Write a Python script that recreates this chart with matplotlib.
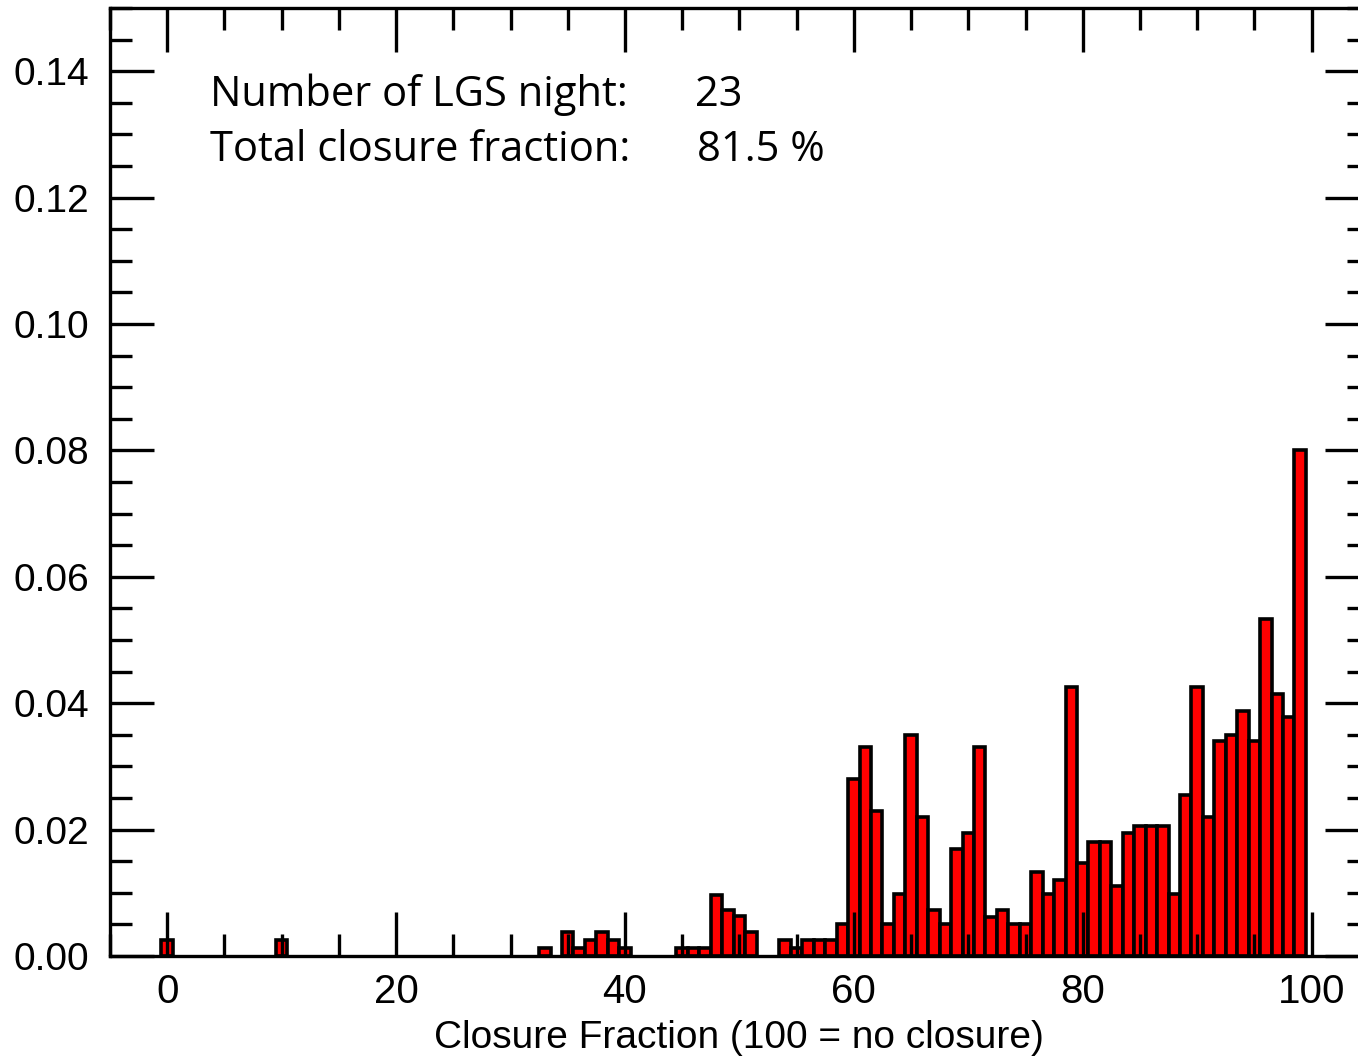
import matplotlib.pyplot as plt
from matplotlib.ticker import MultipleLocator

# closure fraction bins (1 % wide) and normalised counts
closure = [0, 10, 33, 35, 36, 37, 38, 39, 40, 45, 46, 47, 48, 49, 50, 51,
           54, 55, 56, 57, 58, 59, 60, 61, 62, 63, 64, 65, 66, 67, 68, 69,
           70, 71, 72, 73, 74, 75, 76, 77, 78, 79, 80, 81, 82, 83, 84, 85,
           86, 87, 88, 89, 90, 91, 92, 93, 94, 95, 96, 97, 98, 99]
frac = [0.0025, 0.0025, 0.0013, 0.0038, 0.0013, 0.0025, 0.0038, 0.0025, 0.0013,
        0.0013, 0.0013, 0.0013, 0.0097, 0.0073, 0.0063, 0.0038,
        0.0025, 0.0013, 0.0025, 0.0025, 0.0025, 0.0050, 0.0280, 0.0330, 0.0230,
        0.0050, 0.0098, 0.0350, 0.0220, 0.0073, 0.0050, 0.0170,
        0.0195, 0.0330, 0.0062, 0.0073, 0.0050, 0.0050, 0.0133, 0.0098, 0.0120,
        0.0426, 0.0147, 0.0180, 0.0180, 0.0110, 0.0195, 0.0206,
        0.0206, 0.0206, 0.0098, 0.0255, 0.0426, 0.0220, 0.0340, 0.0350, 0.0388,
        0.0340, 0.0534, 0.0415, 0.0378, 0.0800]

info_labels = ['Number of LGS night:', 'Total closure fraction:']
info_values = ['23', '81.5 %']

fig = plt.figure(figsize=(13.58, 10.58), dpi=100)
ax = fig.add_axes([0.081, 0.0964, 0.927, 0.896])

ax.bar(closure, frac, width=1.0, color='red', edgecolor='black', linewidth=2.6)

ax.set_xlim(-5, 105)
ax.set_ylim(0, 0.15)

ax.xaxis.set_major_locator(MultipleLocator(20))
ax.xaxis.set_minor_locator(MultipleLocator(5))
ax.yaxis.set_major_locator(MultipleLocator(0.02))
ax.yaxis.set_minor_locator(MultipleLocator(0.005))
ax.yaxis.set_major_formatter(plt.FormatStrFormatter('%.2f'))

ax.tick_params(which='both', direction='in', top=True, right=True, width=2.4)
ax.tick_params(which='major', length=32)
ax.tick_params(which='minor', length=16)
ax.tick_params(axis='x', pad=12, labelsize=29)
ax.tick_params(axis='y', pad=15, labelsize=28)
for lab in ax.get_xticklabels() + ax.get_yticklabels():
    lab.set_fontfamily('Liberation Sans')
for s in ax.spines.values():
    s.set_linewidth(2.4)

ax.set_xlabel('Closure Fraction (100 = no closure)', fontsize=28,
              family='Liberation Sans', labelpad=7)

for i, (lab, val) in enumerate(zip(info_labels, info_values)):
    yb = 0.1345 - i * 0.0087
    ax.text(3.76, yb, lab, fontsize=30, family='Open Sans', va='baseline')
    ax.text(46.1 + 0.2 * i, yb, val, fontsize=30, family='Open Sans', va='baseline')

fig.savefig('out.png', dpi=100)
